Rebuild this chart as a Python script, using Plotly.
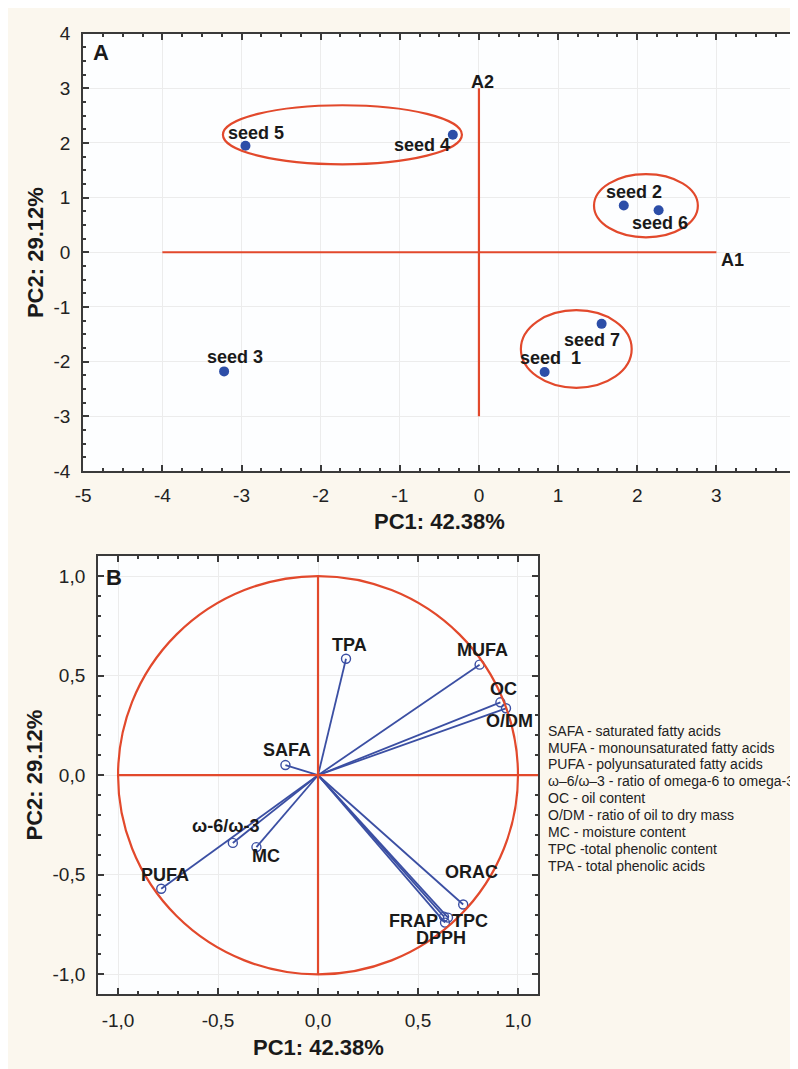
import plotly.graph_objects as go

# ---------------- data ----------------
# Panel A: PCA scores
seed_names = ["seed 5", "seed 4", "seed 2", "seed 6", "seed 3", "seed 7", "seed\u00a0\u00a01"]
score_pc1 = [-2.95, -0.33, 1.83, 2.27, -3.22, 1.55, 0.83]
score_pc2 = [1.95, 2.15, 0.855, 0.77, -2.18, -1.31, -2.19]

# grouping ellipses (centre, half-axes) in PC units
ellipse_cx = [-1.725, 2.11, 1.23]
ellipse_cy = [2.15, 0.852, -1.77]
ellipse_rx = [1.51, 0.656, 0.70]
ellipse_ry = [0.54, 0.578, 0.71]

# reference axes A1 / A2
a1_x = [-4, 3]
a2_y = [-3, 3]

xticks_a = [-5, -4, -3, -2, -1, 0, 1, 2, 3, 4]
xticktext_a = ["-5", "-4", "-3", "-2", "-1", "0", "1", "2", "3", "4"]
yticks_a = [-4, -3, -2, -1, 0, 1, 2, 3, 4]
yticktext_a = ["-4", "-3", "-2", "-1", "0", "1", "2", "3", "4"]

# Panel B: loadings
var_names = ["TPA", "MUFA", "OC", "O/DM", "SAFA", "ω-6/ω-3", "MC", "PUFA",
             "ORAC", "FRAP", "TPC", "DPPH"]
load_pc1 = [0.14, 0.808, 0.912, 0.94, -0.163, -0.426, -0.308, -0.784,
            0.726, 0.63, 0.65, 0.635]
load_pc2 = [0.585, 0.555, 0.366, 0.336, 0.051, -0.34, -0.361, -0.57,
            -0.649, -0.71, -0.715, -0.74]

ticks_b = [-1.0, -0.5, 0.0, 0.5, 1.0]
ticktext_b = ["-1,0", "-0,5", "0,0", "0,5", "1,0"]

legend_lines = [
    "SAFA - saturated fatty acids",
    "MUFA - monounsaturated fatty acids",
    "PUFA - polyunsaturated fatty acids",
    "ω–6/ω–3 - ratio of omega-6 to omega-3",
    "OC - oil content",
    "O/DM - ratio of oil to dry mass",
    "MC - moisture content",
    "TPC -total phenolic content",
    "TPA - total phenolic acids",
]

x_title = "PC1: 42.38%"
y_title = "PC2: 29.12%"

# ---------------- styling ----------------
# the page body adds an 8px white margin at top/left, so the figure is 8px smaller
OFF = 8
W, H = 790, 1061
RED = "#E2492C"
BLUE = "#3B4FA3"
DOT = "#2D4EA8"
CREAM = "#FBF7EE"
FONT = "Liberation Sans, Arial, sans-serif"
TXT = "#1a1a1a"

seed_shift = {  # (xshift, yshift) in px
    "seed 5": (11, 13), "seed 4": (-31, -10), "seed 2": (10, 14),
    "seed 6": (1, -13), "seed 3": (11, 14), "seed 7": (-10, -16),
    "seed\u00a0\u00a01": (6, 14),
}
var_shift = {
    "TPA": (3, 14), "MUFA": (3, 15), "OC": (3, 13), "O/DM": (4, -13),
    "SAFA": (2, 15), "ω-6/ω-3": (-7, 17), "MC": (10, -9), "PUFA": (4, 14),
    "ORAC": (8, 32), "FRAP": (-31, -4), "TPC": (22, -3), "DPPH": (-4, -15),
}


def px_x(p):
    return (p - OFF) / W


def px_y(p):
    return 1 - (p - OFF) / H


fig = go.Figure()

# Panel A points
fig.add_trace(go.Scatter(
    x=score_pc1, y=score_pc2, mode="markers",
    marker=dict(color=DOT, size=10), xaxis="x", yaxis="y",
    showlegend=False, hoverinfo="skip"))

# Panel B vectors
vx, vy = [], []
for a, b in zip(load_pc1, load_pc2):
    vx += [0, a, None]
    vy += [0, b, None]
fig.add_trace(go.Scatter(
    x=vx, y=vy, mode="lines", line=dict(color=BLUE, width=1.8),
    xaxis="x2", yaxis="y2", showlegend=False, hoverinfo="skip"))
fig.add_trace(go.Scatter(
    x=load_pc1, y=load_pc2, mode="markers",
    marker=dict(symbol="circle-open", color=BLUE, size=9, line=dict(width=1.4)),
    xaxis="x2", yaxis="y2", showlegend=False, hoverinfo="skip"))

shapes = []
# Panel A red reference lines
shapes.append(dict(type="line", xref="x", yref="y", x0=a1_x[0], x1=a1_x[1], y0=0, y1=0,
                   line=dict(color=RED, width=2.2)))
shapes.append(dict(type="line", xref="x", yref="y", x0=0, x1=0, y0=a2_y[0], y1=a2_y[1],
                   line=dict(color=RED, width=2.2)))
# ellipses
for cx, cy, rx, ry in zip(ellipse_cx, ellipse_cy, ellipse_rx, ellipse_ry):
    shapes.append(dict(type="circle", xref="x", yref="y",
                       x0=cx - rx, x1=cx + rx, y0=cy - ry, y1=cy + ry,
                       line=dict(color=RED, width=2.2)))

# Panel B circle and cross
shapes.append(dict(type="circle", xref="x2", yref="y2", x0=-1, x1=1, y0=-1, y1=1,
                   line=dict(color=RED, width=2.2)))
shapes.append(dict(type="line", xref="x2", yref="y2", x0=-1, x1=1.1, y0=0, y1=0,
                   line=dict(color=RED, width=2.2)))
shapes.append(dict(type="line", xref="x2", yref="y2", x0=0, x1=0, y0=-1, y1=1,
                   line=dict(color=RED, width=2.2)))

ann = []
bold18 = dict(family=FONT, size=18, color=TXT, weight="bold")
for name, x, y in zip(seed_names, score_pc1, score_pc2):
    dx, dy = seed_shift[name]
    ann.append(dict(x=x, y=y, xref="x", yref="y", text=name, showarrow=False,
                    xanchor="center", yanchor="middle",
                    xshift=dx, yshift=dy, font=bold18))
ann.append(dict(x=0, y=a2_y[1], xref="x", yref="y", text="A2", showarrow=False,
                xanchor="center", yanchor="middle", xshift=4, yshift=6, font=bold18))
ann.append(dict(x=a1_x[1], y=0, xref="x", yref="y", text="A1", showarrow=False,
                xanchor="center", yanchor="middle", xshift=16, yshift=-8, font=bold18))
for name, x, y in zip(var_names, load_pc1, load_pc2):
    dx, dy = var_shift[name]
    ann.append(dict(x=x, y=y, xref="x2", yref="y2", text=name, showarrow=False,
                    xanchor="center", yanchor="middle",
                    xshift=dx, yshift=dy, font=bold18))

# panel letters
lfont = dict(family=FONT, size=22, color=TXT, weight="bold")
ann.append(dict(x=px_x(94), y=px_y(43), xref="paper", yref="paper", text="A",
                xanchor="center", yanchor="middle", showarrow=False, font=lfont))
ann.append(dict(x=px_x(107.5), y=px_y(579), xref="paper", yref="paper", text="B",
                xanchor="center", yanchor="middle", showarrow=False, font=lfont))

# axis titles
tfont = dict(family=FONT, size=22, color=TXT, weight="bold")
for (tx, ty, txt, ang) in [(436, 522, x_title, 0), (27, 247, y_title, -90),
                           (313.5, 1058, x_title, 0), (27, 780, y_title, -90)]:
    ann.append(dict(x=px_x(tx), y=px_y(ty), xref="paper", yref="paper", text=txt,
                    xanchor="center", yanchor="middle", showarrow=False,
                    textangle=ang, font=tfont))

# abbreviations list
for i, line in enumerate(legend_lines):
    ann.append(dict(x=px_x(544), y=px_y(735 + i * 17.25), xref="paper", yref="paper",
                    text=line, showarrow=False, xanchor="left", yanchor="middle",
                    font=dict(family=FONT, size=14, color="#222222")))

axis_common = dict(
    showline=True, linecolor="#3a3a3a", linewidth=2, mirror="ticks",
    ticks="inside", ticklen=6, tickwidth=1.5, tickcolor="#3a3a3a",
    showgrid=True, gridcolor="#ECECEC", gridwidth=1, zeroline=False,
    tickfont=dict(family=FONT, size=19, color="#222222"),
)

fig.update_layout(
    width=W, height=H, autosize=False,
    margin=dict(l=0, r=0, t=0, b=0),
    paper_bgcolor=CREAM, plot_bgcolor="#FDFEFF",
    showlegend=False,
    shapes=shapes, annotations=ann,
    xaxis=dict(axis_common, domain=[px_x(76), px_x(796.5)], range=[-5, 4],
               tickvals=xticks_a, ticktext=xticktext_a, anchor="y", ticklabelstandoff=6,
               minor=dict(ticks="inside", dtick=0.25, ticklen=3, tickcolor="#3a3a3a", showgrid=False)),
    yaxis=dict(axis_common, domain=[px_y(470), px_y(24)], range=[-4, 4],
               tickvals=yticks_a, ticktext=yticktext_a, anchor="x", ticklabelstandoff=7,
               minor=dict(ticks="inside", dtick=0.25, ticklen=3, tickcolor="#3a3a3a", showgrid=False)),
    xaxis2=dict(axis_common, domain=[px_x(91), px_x(536)], range=[-1.1, 1.1],
                tickvals=ticks_b, ticktext=ticktext_b, anchor="y2", ticklabelstandoff=8,
                minor=dict(ticks="inside", dtick=0.1, ticklen=3, tickcolor="#3a3a3a", showgrid=False)),
    yaxis2=dict(axis_common, domain=[px_y(1004), px_y(557)], range=[-1.1, 1.1],
                tickvals=ticks_b, ticktext=ticktext_b, anchor="x2", ticklabelstandoff=7,
                minor=dict(ticks="inside", dtick=0.1, ticklen=3, tickcolor="#3a3a3a", showgrid=False)),
)

fig.write_html("out.html")
